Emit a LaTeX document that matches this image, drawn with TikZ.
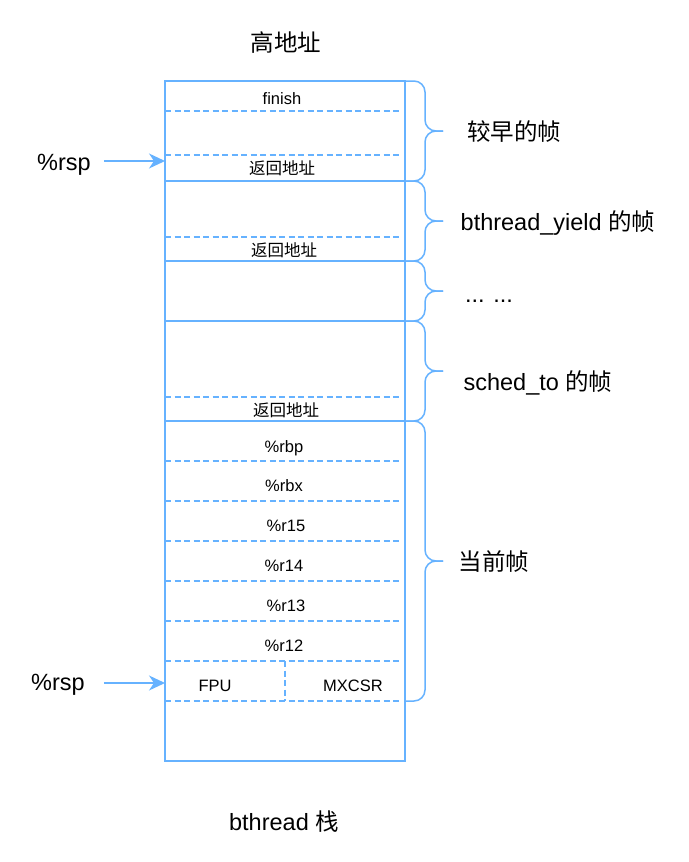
\documentclass[tikz,border=0pt]{standalone}
\usepackage{fontspec}
\setmainfont{Liberation Sans}
\newfontfamily\cjk{Noto Sans CJK SC}
\usepackage{tikz}
\usetikzlibrary{positioning, arrows.meta}

\definecolor{stackblue}{RGB}{102,178,255}
\tikzset{
	stackline/.style={draw=stackblue, line width=1.5pt},
	slotline/.style={draw=stackblue, line width=1.5pt, dash pattern=on 6pt off 3.5pt},
	slottext/.style={inner sep=0pt, yshift=-4pt, font=\fontsize{16.5}{19}\selectfont, text height=0.72em, text depth=0.2em},
	bigtext/.style={inner sep=0pt, yshift=-7pt, font=\fontsize{23.5}{28}\selectfont, text height=0.72em, text depth=0.2em},
	framebrace/.style={draw=stackblue, line width=1.5pt, rounded corners=11pt},
	rsparrow/.style={draw=stackblue, line width=1.5pt, -{Stealth[length=16pt, width=15pt, inset=5pt]}}
}
% brace of one frame: top, tip, bottom
\newcommand\framebrace[3]{%
	\draw[framebrace] (405,#1) -- (425,#1) -- (425,#2) -- (443,#2);
	\draw[framebrace] (405,#3) -- (425,#3) -- (425,#2) -- (443,#2);
}

\begin{document}
\begin{tikzpicture}[x=1pt, y=-1pt]
	\useasboundingbox (0,0) rectangle (688,862);

	% Stack
	\draw[stackline] (165,81) rectangle (405,761);
	\foreach \y in {181, 261, 321, 421}
		\draw[stackline] (165,\y) -- (405,\y);
	\foreach \y in {111, 155, 237, 397, 461, 501, 541, 581, 621, 661, 701}
		\draw[slotline] (165,\y) -- (400,\y);
	\draw[slotline] (285,661) -- (285,701);

	% Slots
	\node[slottext] (finish) at (282,98) {finish};
	\node[slottext] (ret1) at (282,168) {\cjk 返回地址};
	\node[slottext] (ret2) at (284,250) {\cjk 返回地址};
	\node[slottext] (ret3) at (286,410) {\cjk 返回地址};
	\node[slottext] (rbp) at (284,446) {\%rbp};
	\node[slottext] (rbx) at (284,485) {\%rbx};
	\node[slottext] (r15) at (286,525) {\%r15};
	\node[slottext] (r14) at (284,565) {\%r14};
	\node[slottext] (r13) at (286,605) {\%r13};
	\node[slottext] (r12) at (284,645) {\%r12};
	\node[slottext] (fpu) at (215,685) {FPU};
	\node[slottext] (mxcsr) at (353,685) {MXCSR};

	% Braces
	\framebrace{81}{131}{181}
	\framebrace{181}{221}{261}
	\framebrace{261}{291}{321}
	\framebrace{321}{371}{421}
	\framebrace{421}{561}{701}

	% Frames
	\node[bigtext] (older) at (514,131) {\cjk 较早的帧};
	\node[bigtext] (yield) at (558,221) {bthread\_yield {\cjk 的帧}};
	\node[bigtext] (dots) at (489,293) {... ...};
	\node[bigtext] (sched) at (538,381) {sched\_to {\cjk 的帧}};
	\node[bigtext] (current) at (494,561) {\cjk 当前帧};

	% Titles
	\node[bigtext] (high) at (286,42) {\cjk 高地址};
	\node[bigtext] (stack) at (284,821) {bthread {\cjk 栈}};

	% Stack pointer
	\node[bigtext] (rspold) at (64,161) {\%rsp};
	\node[bigtext] (rspnew) at (58,681) {\%rsp};
	\coordinate (rspoldend) at (165,161);
	\coordinate (rspnewend) at (165,683);
	\draw[rsparrow] (rspold.east |- rspoldend) ++(13,0) -- (rspoldend);
	\draw[rsparrow] (rspnew.east |- rspnewend) ++(19,0) -- (rspnewend);
\end{tikzpicture}
\end{document}
